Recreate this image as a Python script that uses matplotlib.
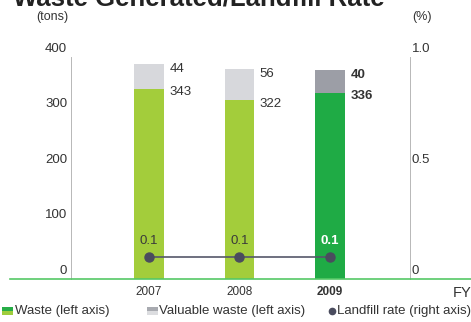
import matplotlib
matplotlib.use("Agg")
import matplotlib.pyplot as plt
from matplotlib.lines import Line2D
from matplotlib.patches import Rectangle

plt.rcParams["font.family"] = ["Liberation Sans", "DejaVu Sans"]

years = ["2007", "2008", "2009"]
waste = [343, 322, 336]
valuable = [44, 56, 40]
landfill = [0.1, 0.1, 0.1]
left_ticks = [0, 100, 200, 300, 400]
right_ticks = [0, 0.5, 1.0]
right_labels = ["0", "0.5", "1.0"]

waste_colors = ["#a3cd3b", "#a3cd3b", "#1fab45"]
valuable_colors = ["#d7d8dc", "#d7d8dc", "#9c9ea6"]
text_col = "#333333"

fig = plt.figure(figsize=(4.71, 3.22), dpi=100)
ax = fig.add_axes([0.1507, 0.1335, 0.7198, 0.6895])
ax2 = ax.twinx()

x = list(range(len(years)))
w = 0.33
ax.bar(x, waste, width=w, color=waste_colors, zorder=2)
ax.bar(x, valuable, width=w, bottom=waste, color=valuable_colors, zorder=2)

ax.set_xlim(-0.862, 2.884)
ax.set_ylim(0, 400)
ax2.set_ylim(0, 1.0)

for a in (ax, ax2):
    a.set_xticks([])
    a.set_yticks([])
    for s in ("top", "bottom"):
        a.spines[s].set_visible(False)
    for s in ("left", "right"):
        a.spines[s].set_color("#b8b8b8")
        a.spines[s].set_linewidth(0.6)

# axis labels sit just above their tick values
for t in left_ticks:
    ax.text(-0.905, t + 4, str(t), ha="right", va="bottom", fontsize=9.5, color=text_col)
for t, lab in zip(right_ticks, right_labels):
    ax2.text(2.905, t + 0.01, lab, ha="left", va="bottom", fontsize=9.5, color=text_col)

# stacked value labels beside each bar
for i in x:
    bold = "bold" if i == 2 else "normal"
    top = waste[i] + valuable[i]
    ax.text(i + w / 2 + 0.06, top - 8, str(valuable[i]), ha="left", va="center",
            fontsize=9.5, color=text_col, fontweight=bold)
    ax.text(i + w / 2 + 0.06, waste[i] - 6, str(waste[i]), ha="left", va="center",
            fontsize=9.5, color=text_col, fontweight=bold)

# landfill rate line on the right axis
ax2.plot(x, landfill, color="#55586a", lw=1.2, marker="o", ms=6.5,
         markerfacecolor="#4a4c5e", markeredgecolor="#4a4c5e", zorder=3)
for i in x:
    ax2.text(i, landfill[i] + 0.045, f"{landfill[i]:.1f}", ha="center", va="bottom",
             fontsize=9.5, color="white" if i == 2 else "#3a3a3a",
             fontweight="bold" if i == 2 else "normal")

# green baseline across the whole width
fig.add_artist(Line2D([10 / 471, 1.0], [1 - 279 / 322] * 2,
                      transform=fig.transFigure, color="#55c866", lw=1.2))

# year labels under the baseline
for i, yr in enumerate(years):
    ax.text(i, -24, yr, ha="center", va="center", fontsize=8.5, color=text_col,
            fontweight="bold" if i == 2 else "normal", clip_on=False)
fig.text(453 / 471, 1 - 293 / 322, "FY", ha="left", va="center", fontsize=10.5, color=text_col)

fig.text(52 / 471, 1 - 17 / 322, "(tons)", ha="center", va="center", fontsize=9, color=text_col)
fig.text(422 / 471, 1 - 17 / 322, "(%)", ha="center", va="center", fontsize=9, color=text_col)

# heading, partly above the top edge
fig.text(13 / 471, 1 - 5 / 322, "Waste Generated/Landfill Rate", ha="left", va="baseline",
         fontsize=18.5, fontweight="bold", color="#222222")

# legend row
ly = 1 - 311 / 322


def swatch(x0, top_col, bottom_col):
    fig.add_artist(Rectangle((x0 / 471, ly), 11 / 471, 4 / 322,
                             transform=fig.transFigure, color=top_col, lw=0))
    fig.add_artist(Rectangle((x0 / 471, ly - 4 / 322), 11 / 471, 4 / 322,
                             transform=fig.transFigure, color=bottom_col, lw=0))


swatch(2, "#27ad47", "#9fcd3c")
fig.text(15 / 471, ly, "Waste (left axis)", ha="left", va="center", fontsize=9.5, color=text_col)
swatch(147, "#a8aab0", "#dcdde0")
fig.text(159 / 471, ly, "Valuable waste (left axis)", ha="left", va="center", fontsize=9.5, color=text_col)
fig.add_artist(Line2D([332 / 471], [ly], transform=fig.transFigure, marker="o", ms=4.5,
                      color="#4a4c5e", lw=0))
fig.text(337 / 471, ly, "Landfill rate (right axis)", ha="left", va="center", fontsize=9.5, color=text_col)

fig.savefig("out.png", dpi=100)
